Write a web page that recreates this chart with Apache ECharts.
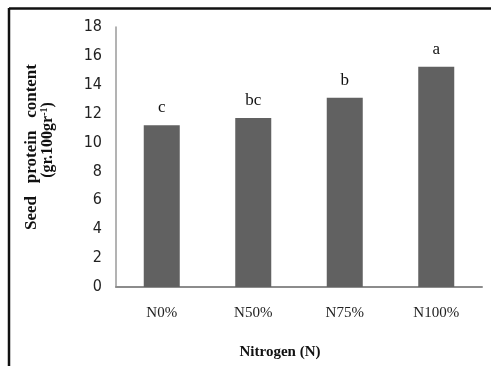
<!DOCTYPE html>
<html><head><meta charset="utf-8">
<script src="https://cdn.jsdelivr.net/npm/echarts@6/dist/echarts.min.js"></script>
<style>html,body{margin:0;padding:0;background:#fff}#c{width:491px;height:366px}</style>
</head><body><div id="c"></div>
<script>
var categories = ['N0%', 'N50%', 'N75%', 'N100%'];
var values = [11.2, 11.7, 13.1, 15.25];
var letters = ['c', 'bc', 'b', 'a'];
var yTicks = {min: 0, max: 18, interval: 2};

var chart = echarts.init(document.getElementById('c'));
var serif = '"Liberation Serif", "DejaVu Serif", serif';
chart.setOption({
  animation: false,
  grid: {left: 116, right: 9, top: 27, bottom: 79},
  xAxis: {
    type: 'category', data: categories,
    axisLine: {lineStyle: {color: '#8c8c8c', width: 2}},
    axisTick: {show: false},
    axisLabel: {fontFamily: serif, fontSize: 15, color: '#222', margin: 19}
  },
  yAxis: {
    type: 'value', min: yTicks.min, max: yTicks.max, interval: yTicks.interval,
    axisLine: {show: true, lineStyle: {color: '#9a9a9a', width: 1.5}},
    axisTick: {show: false},
    splitLine: {show: false},
    axisLabel: {fontFamily: '"Liberation Sans Narrow", "DejaVu Sans Condensed", sans-serif', fontSize: 16, color: '#222', margin: 14}
  },
  series: [{
    type: 'bar', data: values, barWidth: 36,
    itemStyle: {color: '#616161'},
    label: {
      show: true, position: 'top', distance: 9,
      fontFamily: serif, fontSize: 17, color: '#111',
      formatter: function (p) { return letters[p.dataIndex]; }
    }
  }],
  graphic: [
    {type: 'line', shape: {x1: 9, y1: 8.5, x2: 491, y2: 8.5}, style: {stroke: '#111', lineWidth: 2.5}},
    {type: 'line', shape: {x1: 9, y1: 8, x2: 9, y2: 366}, style: {stroke: '#111', lineWidth: 2.5}},
    {type: 'text', x: 280, y: 352, style: {text: 'Nitrogen (N)', font: 'bold 15px ' + serif, fill: '#111', align: 'center', verticalAlign: 'middle'}},
    {type: 'text', x: 32, y: 147, rotation: Math.PI / 2, style: {text: 'Seed   protein   content', font: 'bold 17px ' + serif, fill: '#111', align: 'center', verticalAlign: 'middle'}},
    {type: 'text', x: 48, y: 140, rotation: Math.PI / 2, style: {
      text: '{a|(gr.100gr}{s|-1}{a|)}', align: 'center', verticalAlign: 'middle',
      rich: {a: {font: 'bold 16px ' + serif, fill: '#111'}, s: {font: 'bold 10px ' + serif, fill: '#111', verticalAlign: 'top', padding: [0, 0, 7, 0]}}
    }}
  ]
});
</script></body></html>
